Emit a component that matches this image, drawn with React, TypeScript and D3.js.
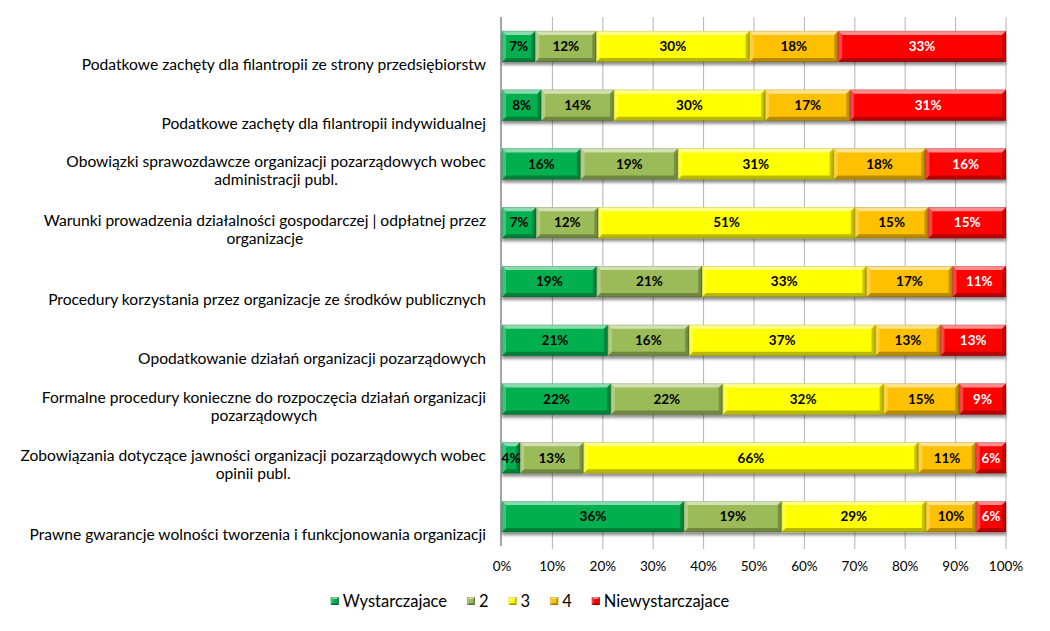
import React, { useEffect, useRef } from "react";
import * as d3 from "d3";

const categories = [
  "Podatkowe zachęty dla filantropii ze strony przedsiębiorstw",
  "Podatkowe zachęty dla filantropii indywidualnej",
  "Obowiązki sprawozdawcze organizacji pozarządowych wobec\nadministracji publ.",
  "Warunki prowadzenia działalności gospodarczej | odpłatnej przez\norganizacje",
  "Procedury korzystania przez organizacje ze środków publicznych",
  "Opodatkowanie działań organizacji pozarządowych",
  "Formalne procedury konieczne do rozpoczęcia działań organizacji\npozarządowych",
  "Zobowiązania dotyczące jawności organizacji pozarządowych wobec\nopinii publ.",
  "Prawne gwarancje wolności tworzenia i funkcjonowania organizacji",
];

const seriesNames = ["Wystarczajace", "2", "3", "4", "Niewystarczajace"];
const wystarczajace = [6.6, 7.8, 15.6, 6.8, 18.8, 21.0, 21.6, 3.6, 36.1];
const ocena2 = [12.1, 14.4, 19.3, 12.3, 20.9, 16.1, 22.2, 12.6, 19.4];
const ocena3 = [30.4, 30.0, 30.9, 50.9, 32.6, 37.0, 31.9, 66.4, 28.6];
const ocena4 = [17.6, 16.9, 18.2, 14.6, 17.1, 12.9, 15.0, 11.4, 10.0];
const niewystarczajace = [33.3, 30.9, 16.0, 15.4, 10.6, 13.0, 9.3, 6.0, 5.9];
const seriesValues = [wystarczajace, ocena2, ocena3, ocena4, niewystarczajace];
const seriesColors = ["#00B050", "#9BBB59", "#FFFF00", "#FFC000", "#FF0000"];
const labelColors = ["#000", "#000", "#000", "#000", "#fff"];
const xTicks = [0, 10, 20, 30, 40, 50, 60, 70, 80, 90, 100];

const FONT = "Lato, 'Open Sans', sans-serif";

export default function App() {
  const ref = useRef<SVGSVGElement>(null);

  useEffect(() => {
    const svg = d3.select(ref.current);
    svg.selectAll("*").remove();

    const plotLeft = 502, plotRight = 1006, plotTop = 17, plotBottom = 546;

    const x = d3.scaleLinear().domain([0, 100]).range([plotLeft, plotRight]);
    const y = d3
      .scaleBand<string>()
      .domain(categories)
      .range([plotTop, plotBottom])
      .paddingInner(0.473)
      .paddingOuter(0.2365);

    const rows = categories.map((c, i) => {
      const r: any = { cat: c };
      seriesNames.forEach((s, j) => (r[s] = seriesValues[j][i]));
      return r;
    });
    const stacked = d3.stack<any>().keys(seriesNames)(rows);

    const defs = svg.append("defs");
    const f = defs
      .append("filter")
      .attr("id", "shadow")
      .attr("x", "-5%")
      .attr("y", "-20%")
      .attr("width", "110%")
      .attr("height", "160%");
    f.append("feDropShadow")
      .attr("dx", 0)
      .attr("dy", 3)
      .attr("stdDeviation", 1.8)
      .attr("flood-color", "#000")
      .attr("flood-opacity", 0.45);

    // gridlines
    svg
      .append("g")
      .selectAll("line")
      .data(xTicks.slice(1))
      .join("line")
      .attr("x1", (d) => x(d))
      .attr("x2", (d) => x(d))
      .attr("y1", plotTop)
      .attr("y2", plotBottom + 3)
      .attr("stroke", "#B3B3B3")
      .attr("stroke-width", 1);

    // axis line
    svg
      .append("line")
      .attr("x1", plotLeft - 1)
      .attr("x2", plotLeft - 1)
      .attr("y1", plotTop)
      .attr("y2", plotBottom)
      .attr("stroke", "#868686")
      .attr("stroke-width", 1.5);

    const bevel = (g: any, x0: number, y0: number, w: number, h: number, color: string, bv = 4) => {
      const b = Math.min(bv, w / 2);
      g.append("rect")
        .attr("x", x0)
        .attr("y", y0)
        .attr("width", w)
        .attr("height", h)
        .attr("fill", color);
      const poly = (pts: number[][], fill: string, op: number) =>
        g
          .append("polygon")
          .attr("points", pts.map((p) => p.join(",")).join(" "))
          .attr("fill", fill)
          .attr("fill-opacity", op);
      poly([[x0, y0], [x0 + w, y0], [x0 + w - b, y0 + b], [x0 + b, y0 + b]], "#fff", 0.55);
      poly([[x0, y0 + h], [x0 + w, y0 + h], [x0 + w - b, y0 + h - b], [x0 + b, y0 + h - b]], "#000", 0.28);
      poly([[x0, y0], [x0 + b, y0 + b], [x0 + b, y0 + h - b], [x0, y0 + h]], "#fff", 0.25);
      poly([[x0 + w, y0], [x0 + w - b, y0 + b], [x0 + w - b, y0 + h - b], [x0 + w, y0 + h]], "#000", 0.22);
      g.append("rect")
        .attr("x", x0 + 0.25)
        .attr("y", y0 + 0.25)
        .attr("width", Math.max(0, w - 0.5))
        .attr("height", h - 0.5)
        .attr("fill", "none")
        .attr("stroke", "#000")
        .attr("stroke-opacity", 0.25)
        .attr("stroke-width", 0.5);
    };

    // bars
    const barsG = svg.append("g");
    stacked.forEach((layer, si) => {
      layer.forEach((d: any) => {
        const cat = d.data.cat;
        const g = barsG.append("g").attr("filter", "url(#shadow)");
        const x0 = x(d[0]);
        const w = x(d[1]) - x(d[0]);
        bevel(g, x0, y(cat)!, w, y.bandwidth(), seriesColors[si]);
      });
    });

    // data labels
    const lblG = svg.append("g");
    stacked.forEach((layer, si) => {
      layer.forEach((d: any) => {
        const cat = d.data.cat;
        lblG
          .append("text")
          .attr("x", (x(d[0]) + x(d[1])) / 2)
          .attr("y", y(cat)! + y.bandwidth() / 2)
          .attr("dy", "0.35em")
          .attr("text-anchor", "middle")
          .attr("font-family", FONT)
          .attr("font-weight", 700)
          .attr("font-size", 13.5)
          .attr("fill", labelColors[si])
          .text(Math.round(d[1] - d[0]) + "%");
      });
    });

    // category labels
    const catG = svg.append("g");
    const labelRight = 486;
    categories.forEach((c) => {
      const lines = c.split("\n");
      const center = y(c)! + y.bandwidth() / 2;
      const lastY = center + (lines.length === 1 ? 18 : 16);
      const texts = lines.map((ln, li) =>
        catG
          .append("text")
          .attr("y", lastY - (lines.length - 1 - li) * 18)
          .attr("dy", "0.35em")
          .attr("font-family", FONT)
          .attr("font-size", 15.6)
          .attr("fill", "#000")
          .text(ln)
      );
      const widths = texts.map((t) => (t.node() as SVGTextElement).getComputedTextLength());
      const maxW = Math.max(...widths);
      const mid = labelRight - maxW / 2;
      texts.forEach((t) => t.attr("x", mid).attr("text-anchor", "middle"));
    });

    // x tick labels
    svg
      .append("g")
      .selectAll("text")
      .data(xTicks)
      .join("text")
      .attr("x", (d) => x(d))
      .attr("y", 566)
      .attr("dy", "0.35em")
      .attr("text-anchor", "middle")
      .attr("font-family", FONT)
      .attr("font-size", 13.5)
      .attr("fill", "#000")
      .text((d) => d + "%");

    // legend
    const legG = svg.append("g");
    const legY = 601;
    let cx = 0;
    seriesNames.forEach((s, i) => {
      const it = legG.append("g");
      bevel(it, cx, legY - 4, 8, 8, seriesColors[i], 2);
      const t = it
        .append("text")
        .attr("x", cx + 12)
        .attr("y", legY)
        .attr("dy", "0.35em")
        .attr("font-family", FONT)
        .attr("font-size", 16.5)
        .attr("fill", "#000")
        .text(s);
      const w = (t.node() as SVGTextElement).getComputedTextLength();
      cx += 12 + w + 20;
    });
    const total = cx - 20;
    legG.attr("transform", `translate(${530 - total / 2},0)`);
  }, []);

  return (
    <svg
      ref={ref}
      width={1050}
      height={631}
      style={{ position: "absolute", left: 0, top: 0, background: "#fff" }}
    />
  );
}
